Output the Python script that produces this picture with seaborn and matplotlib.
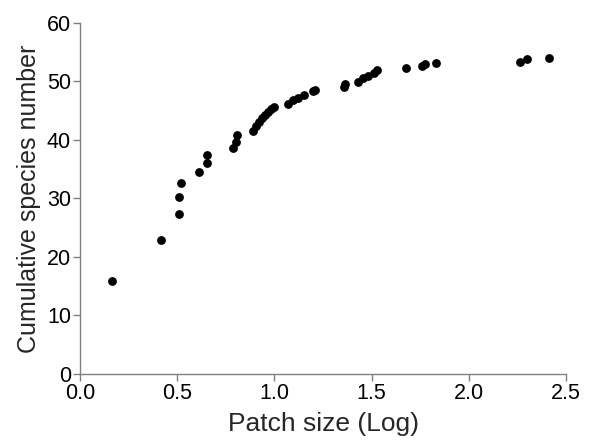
"""Cumulative species number against patch size (log)."""

import matplotlib

matplotlib.use("Agg")
import matplotlib.pyplot as plt
import pandas as pd
import seaborn as sns


patch_size_log = [
    0.166, 0.415, 0.511, 0.511, 0.518, 0.612, 0.653, 0.655, 0.789, 0.805,
    0.806, 0.89, 0.905, 0.92, 0.935, 0.95, 0.965, 0.985, 1.0, 1.07,
    1.094, 1.12, 1.15, 1.20, 1.21, 1.358, 1.363, 1.43, 1.457, 1.483,
    1.51, 1.53, 1.677, 1.758, 1.775, 1.83, 2.263, 2.30, 2.41,
]
cumulative_species = [
    15.9, 22.9, 27.3, 30.3, 32.7, 34.5, 36.1, 37.5, 38.6, 39.6,
    40.8, 41.6, 42.3, 43.0, 43.7, 44.3, 44.8, 45.2, 45.6, 46.1,
    46.8, 47.2, 47.6, 48.3, 48.5, 49.1, 49.5, 49.9, 50.5, 51.0,
    51.4, 52.0, 52.3, 52.6, 52.9, 53.1, 53.4, 53.75, 54.0,
]
x_ticks = [0.0, 0.5, 1.0, 1.5, 2.0, 2.5]
y_ticks = [0, 10, 20, 30, 40, 50, 60]


def main() -> None:
    df = pd.DataFrame({"patch": patch_size_log, "species": cumulative_species})

    sns.set_theme(style="ticks")
    plt.rcParams["font.family"] = ["Liberation Sans", "DejaVu Sans"]

    fig = plt.figure(figsize=(6.01, 4.40), dpi=100)
    ax = fig.add_axes([0.133, 0.15, 0.809, 0.798])
    sns.scatterplot(data=df, x="patch", y="species", color="black", s=40,
                    linewidth=0, ax=ax)

    ax.set_xlim(0, 2.5)
    ax.set_ylim(0, 60)
    ax.set_xticks(x_ticks)
    ax.set_xticklabels([f"{t:.1f}" for t in x_ticks])
    ax.set_yticks(y_ticks)
    ax.set_xlabel("Patch size (Log)", fontsize=19, labelpad=6)
    ax.set_ylabel("Cumulative species number", fontsize=18, labelpad=4)
    ax.tick_params(axis="both", labelsize=15.5, length=5, width=1,
                   color="#808080", pad=1.5, labelcolor="black")
    sns.despine(ax=ax)
    for side in ("left", "bottom"):
        ax.spines[side].set_color("#808080")
        ax.spines[side].set_linewidth(1)

    fig.savefig("out.png")
    plt.close(fig)


if __name__ == "__main__":
    main()
